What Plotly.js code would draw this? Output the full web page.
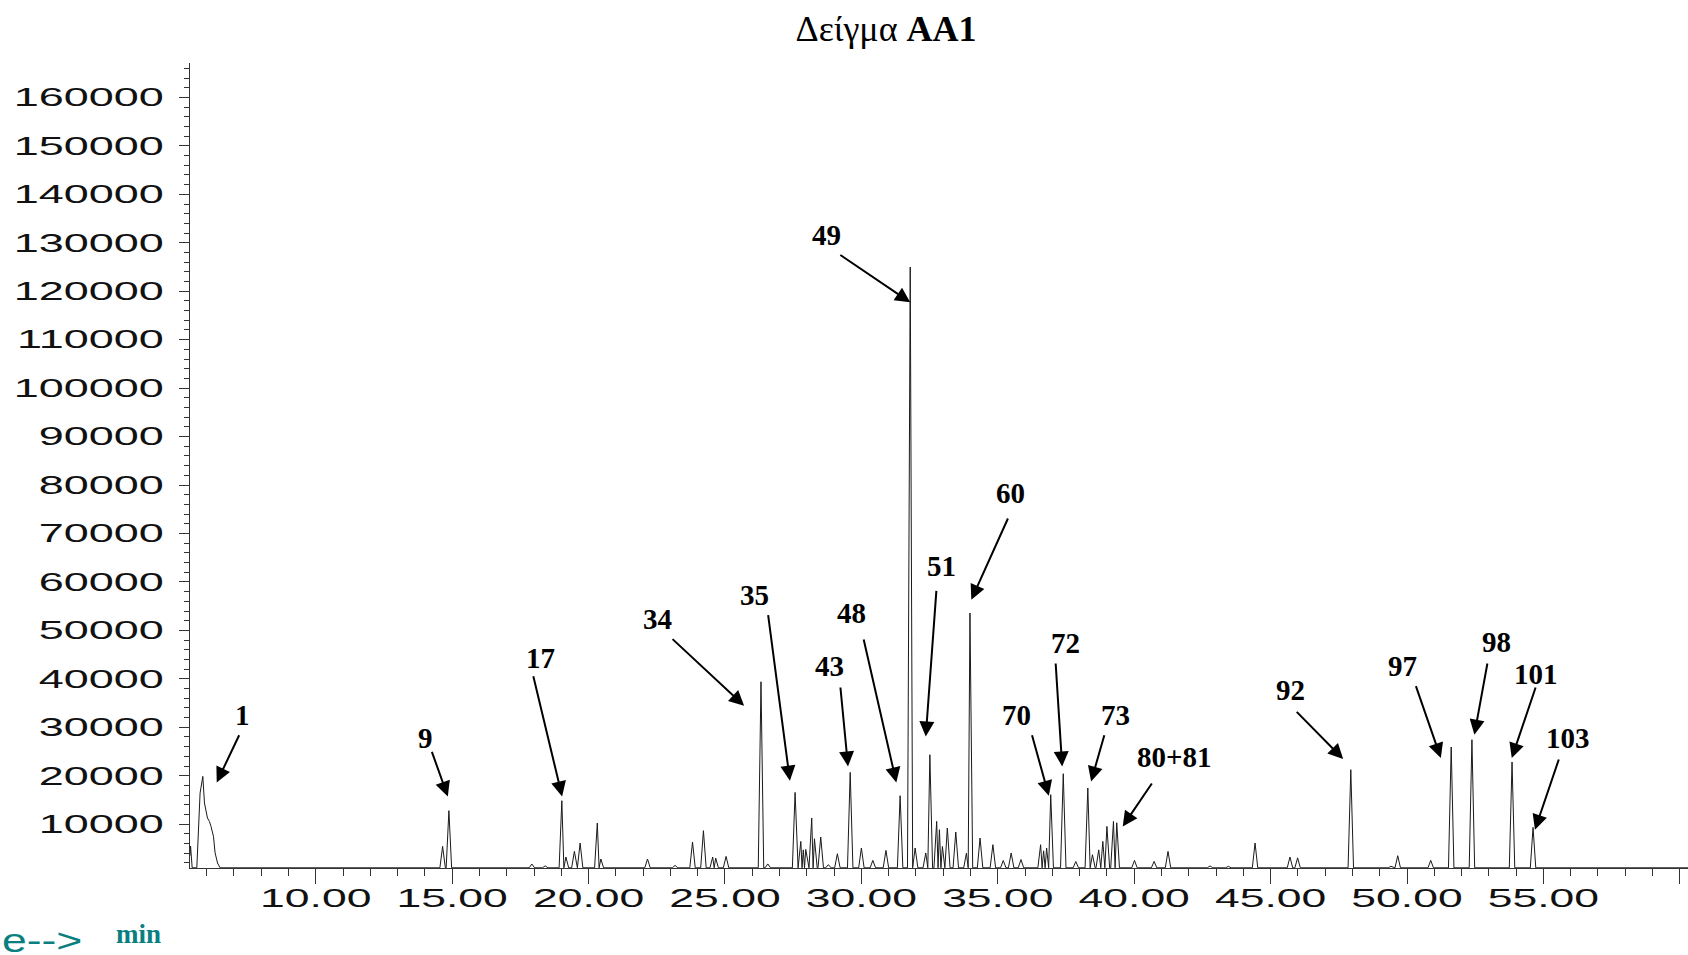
<!DOCTYPE html>
<html>
<head>
<meta charset="utf-8">
<script src="https://cdn.plot.ly/plotly-3.0.1.min.js"></script>
<style>
  html, body { margin: 0; padding: 0; background: #fff; }
  #chart { width: 1688px; height: 955px; }
</style>
</head>
<body>
<div id="chart"></div>
<script>
// ---- Data ----
// broad solvent front at the start (time in min, abundance)
const frontTimes  = [5.39, 5.41, 5.47, 5.64, 5.76, 5.80, 5.86, 5.92, 6.03, 6.10, 6.16, 6.25, 6.31, 6.40, 6.49];
const frontValues = [3500, 5500, 1000, 1000, 16440, 18150, 19870, 14380, 11280, 10580, 9550, 7480, 4060, 1990, 1000];

// sharp peaks: apex retention time (min) and apex abundance
const peakTimes = [
  14.65, 14.88, 17.92, 18.41, 19.02, 19.17, 19.48, 19.69, 20.32, 20.45,
  22.16, 23.17, 23.81, 24.21, 24.55, 24.66, 25.04, 26.32, 26.57,
  27.57, 27.78, 27.87, 27.96, 28.18, 28.28, 28.51, 28.79, 29.12, 29.59,
  30.00, 30.42, 30.90, 31.42, 31.79, 31.97, 32.36, 32.51, 32.76, 32.86,
  32.97, 33.15, 33.46, 33.85, 33.98, 34.35, 34.82, 35.20, 35.49, 35.85,
  36.57, 36.68, 36.79, 36.94, 37.40, 37.86, 38.30, 38.47, 38.70, 38.85,
  39.00, 39.24, 39.36, 40.01, 40.73, 41.24, 42.78, 43.45, 44.43, 45.71,
  45.99, 47.94, 49.41, 49.66, 50.87, 51.62, 52.38, 53.85, 54.62
];
const peakHeights = [
  5420, 12790, 1780, 1400, 14850, 3230, 4390, 6120, 10250, 2820,
  2820, 1500, 6330, 8660, 3230, 3000, 3350, 39400, 1800,
  16560, 6450, 4700, 4800, 11280, 7000, 7360, 1650, 3900, 20690,
  5090, 2530, 4590, 15880, 125000, 5090, 4060, 24340, 10580, 8860,
  5400, 9210, 8390, 4000, 53590, 7150, 5770, 2500, 4060, 2700,
  5770, 4500, 5090, 16090, 20420, 2300, 17470, 3700, 4700, 6450,
  9550, 10580, 10300, 2530, 2320, 4390, 1400, 1300, 6120, 3230,
  3050, 21250, 1300, 3500, 2530, 25930, 27440, 22840, 9340
];

// axis ticks
const xTickVals   = [10, 15, 20, 25, 30, 35, 40, 45, 50, 55, 60];
const xTickLabels = ['10.00', '15.00', '20.00', '25.00', '30.00', '35.00', '40.00', '45.00', '50.00', '55.00', ''];
const yTickVals   = [10000, 20000, 30000, 40000, 50000, 60000, 70000, 80000, 90000, 100000,
                     110000, 120000, 130000, 140000, 150000, 160000];
const yTickLabels = yTickVals.map(v => String(v));

// peak labels
const peakLabels = ['1', '9', '17', '34', '35', '43', '48', '49', '51', '60', '70', '72', '73', '80+81', '92', '97', '98', '101', '103'];

// ---- layout of the call-outs (label centre, arrow tail, arrow tip) ----
const callouts = [
  {at: [7.33, 32600],   tail: [7.20, 28470],   head: [6.37, 18630]},
  {at: [14.04, 27790],  tail: [14.25, 25030],  head: [14.84, 15740]},
  {at: [18.22, 44300],  tail: [17.97, 40650],  head: [19.03, 15740]},
  {at: [22.51, 52420],  tail: [23.06, 48290],  head: [25.70, 34460]},
  {at: [26.09, 57370],  tail: [26.58, 53240],  head: [27.38, 18980]},
  {at: [28.84, 42570],  tail: [29.23, 38320],  head: [29.51, 21930]},
  {at: [29.63, 53590],  tail: [30.08, 48230],  head: [31.28, 18630]},
  {at: [28.72, 131670], tail: [29.21, 127550], head: [31.79, 117700]},
  {at: [32.93, 63350],  tail: [32.75, 58260],  head: [32.36, 28120]},
  {at: [35.46, 78420],  tail: [35.38, 73200],  head: [34.03, 56340]},
  {at: [35.70, 32600],  tail: [36.25, 28470],  head: [36.87, 15880]},
  {at: [37.47, 47400],  tail: [37.12, 43270],  head: [37.36, 21930]},
  {at: [39.32, 32600],  tail: [38.91, 28470],  head: [38.42, 18830]},
  {at: [41.48, 23830],  tail: [40.66, 18500],  head: [39.58, 9550]},
  {at: [45.74, 37620],  tail: [45.94, 33280],  head: [47.66, 23460]},
  {at: [49.83, 42570],  tail: [50.32, 38590],  head: [51.24, 23660]},
  {at: [53.29, 47520],  tail: [52.95, 43270],  head: [52.47, 28470]},
  {at: [54.73, 41060],  tail: [54.72, 38320],  head: [53.84, 23660]},
  {at: [55.91, 27790],  tail: [55.57, 23460],  head: [54.69, 8870]}
];

// ---- build the signal trace ----
const baseline = 1000;
const halfWidth = 0.1;
const X_MAX = 60.30;
const sx = [], sy = [];
for (let i = 0; i < frontTimes.length; i++) { sx.push(frontTimes[i]); sy.push(frontValues[i]); }
for (let i = 0; i < peakTimes.length; i++) {
  const t = peakTimes[i];
  const prev = i > 0 ? peakTimes[i - 1] : frontTimes[frontTimes.length - 1];
  const next = i < peakTimes.length - 1 ? peakTimes[i + 1] : X_MAX;
  const left = Math.max(t - halfWidth, (prev + t) / 2);
  const right = Math.min(t + halfWidth, (t + next) / 2);
  sx.push(left, t, right);
  sy.push(baseline, peakHeights[i], baseline);
}
sx.push(X_MAX); sy.push(baseline);

const trace = {
  type: 'scatter', mode: 'lines', x: sx, y: sy,
  line: {color: '#1a1a1a', width: 1},
  hoverinfo: 'skip', showlegend: false
};

// ---- annotations ----
const annotations = [];
annotations.push({
  xref: 'paper', yref: 'paper', x: -0.0714, y: -0.0903,
  xanchor: 'right', yanchor: 'middle', showarrow: false, borderpad: 0,
  text: 'Time-->', font: {family: 'Liberation Sans', size: 33, color: '#0a7f7f'}
});
annotations.push({
  xref: 'paper', yref: 'paper', x: -0.0344, y: -0.0816,
  xanchor: 'center', yanchor: 'middle', showarrow: false, borderpad: 0,
  text: '<b>min</b>', font: {family: 'Liberation Serif', size: 27, color: '#0a7f7f'}
});
peakLabels.forEach((lab, i) => {
  const c = callouts[i];
  annotations.push({
    xref: 'x', yref: 'y', x: c.at[0], y: c.at[1], showarrow: false,
    xanchor: 'center', yanchor: 'middle', borderpad: 0,
    text: '<b>' + lab + '</b>', font: {family: 'Liberation Serif', size: 29, color: '#000'}
  });
  annotations.push({
    xref: 'x', yref: 'y', x: c.head[0], y: c.head[1],
    axref: 'x', ayref: 'y', ax: c.tail[0], ay: c.tail[1],
    text: '', showarrow: true, arrowhead: 2, arrowsize: 1.5, arrowwidth: 2,
    arrowcolor: '#000', standoff: 0, startstandoff: 0, borderpad: 0,
    font: {size: 1}
  });
});

const axisColor = '#333';
const tickFont = {family: 'Liberation Sans', size: 25, color: '#111'};

const layout = {
  width: 1688, height: 955,
  margin: {l: 190, r: 0, t: 63, b: 87},
  paper_bgcolor: '#fff', plot_bgcolor: '#fff',
  title: {
    text: 'Δείγμα <b>AA1</b>',
    font: {family: 'Liberation Serif', size: 36, color: '#000'},
    xref: 'container', yref: 'container', x: 0.5249, y: 0.9707,
    xanchor: 'center', yanchor: 'middle'
  },
  xaxis: {
    range: [5.39, X_MAX], showgrid: false, zeroline: false,
    showline: true, linecolor: axisColor, linewidth: 1.3,
    ticks: 'outside', ticklen: 15, tickwidth: 1.3, tickcolor: axisColor,
    tickmode: 'array', tickvals: xTickVals, ticktext: xTickLabels,
    tickfont: tickFont, ticklabelstandoff: -7,
    minor: {tickmode: 'linear', tick0: 0, dtick: 1, ticks: 'outside', ticklen: 7,
            tickwidth: 1.3, tickcolor: axisColor, showgrid: false}
  },
  yaxis: {
    range: [960, 167100], showgrid: false, zeroline: false,
    showline: true, linecolor: axisColor, linewidth: 1.3,
    ticks: 'outside', ticklen: 10, tickwidth: 1.3, tickcolor: axisColor,
    tickmode: 'array', tickvals: yTickVals, ticktext: yTickLabels,
    tickfont: tickFont, ticklabelstandoff: 10,
    minor: {tickmode: 'linear', tick0: 0, dtick: 2000, ticks: 'outside', ticklen: 5,
            tickwidth: 1.3, tickcolor: axisColor, showgrid: false}
  },
  annotations: annotations
};

function stretchText(el, s, forcedAnchor) {
  const bb = el.getBBox();
  const anchor = forcedAnchor || el.getAttribute('text-anchor') || 'start';
  let ax = bb.x;
  if (anchor === 'end') ax = bb.x + bb.width;
  else if (anchor === 'middle') ax = bb.x + bb.width / 2;
  const t = el.getAttribute('transform') || '';
  el.setAttribute('transform', t + ' translate(' + ax + ',0) scale(' + s + ',1) translate(' + (-ax) + ',0)');
}

Plotly.newPlot('chart', [trace], layout, {displayModeBar: false, responsive: false}).then(gd => {
  gd.querySelectorAll('.xtick text').forEach(el => stretchText(el, 1.78));
  gd.querySelectorAll('.ytick text').forEach(el => stretchText(el, 1.8));
  const timeAnn = gd.querySelector('.annotation[data-index="0"] text');
  if (timeAnn) stretchText(timeAnn, 1.35, 'end');
});
</script>
</body>
</html>
